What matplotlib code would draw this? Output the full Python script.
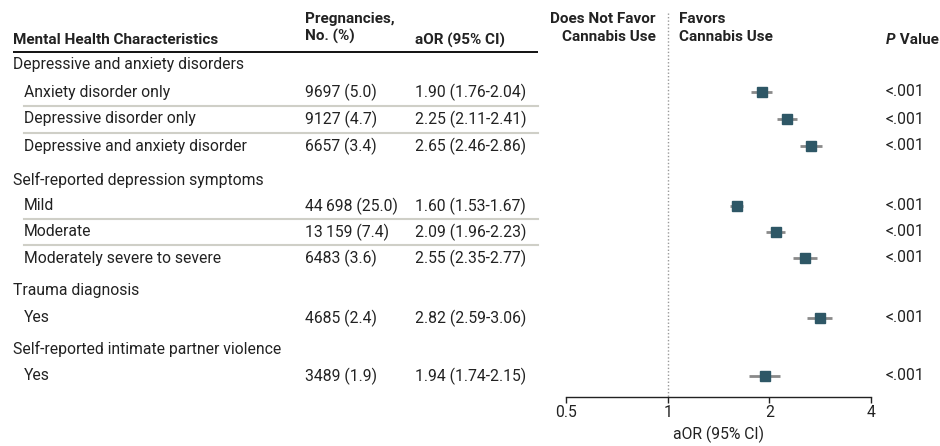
import matplotlib
matplotlib.use('Agg')
import matplotlib.pyplot as plt
import numpy as np

plt.rcParams['font.family'] = ['Roboto', 'DejaVu Sans']

# data
sections = ['Depressive and anxiety disorders', 'Self-reported depression symptoms',
            'Trauma diagnosis', 'Self-reported intimate partner violence']
labels = ['Anxiety disorder only', 'Depressive disorder only', 'Depressive and anxiety disorder',
          'Mild', 'Moderate', 'Moderately severe to severe',
          'Yes',
          'Yes']
group = [0, 0, 0, 1, 1, 1, 2, 3]
counts = ['9697 (5.0)', '9127 (4.7)', '6657 (3.4)',
          '44\u2009698 (25.0)', '13\u2009159 (7.4)', '6483 (3.6)',
          '4685 (2.4)', '3489 (1.9)']
aor = [1.90, 2.25, 2.65, 1.60, 2.09, 2.55, 2.82, 1.94]
lo = [1.76, 2.11, 2.46, 1.53, 1.96, 2.35, 2.59, 1.74]
hi = [2.04, 2.41, 2.86, 1.67, 2.23, 2.77, 3.06, 2.15]
pvals = ['<.001'] * 8
ticks = [0.5, 1, 2, 4]
tick_labels = ['0.5', '1', '2', '4']

# layout (pixel rows from top)
W, H = 940, 446
sec_y = [64, 180, 291, 349]
row_y = [92, 119, 146, 206, 232, 258, 318, 376]
axis_y = 397
x_sec, x_row, x_cnt, x_aor, x_p = 13, 24, 305, 415, 886
fs = 11.3
hfs = 11.0
txt = '#222222'
mark = '#2e5766'

fig = plt.figure(figsize=(W / 100, H / 100), dpi=100)
bg = fig.add_axes([0, 0, 1, 1])
bg.set_xlim(0, W)
bg.set_ylim(H, 0)
bg.axis('off')

# header
hkw = dict(fontsize=hfs, fontweight='bold', color=txt)
bg.text(x_sec, 40, 'Mental Health Characteristics', va='center', **hkw)
bg.text(x_cnt, 28, 'Pregnancies,\nNo. (%)', va='center', linespacing=1.3, **hkw)
bg.text(x_aor, 40, 'aOR (95% CI)', va='center', **hkw)
bg.text(656, 28, 'Does Not Favor\nCannabis Use', va='center', ha='right',
        multialignment='right', linespacing=1.3, **hkw)
bg.text(679, 28, 'Favors\nCannabis Use', va='center', ha='left', linespacing=1.3, **hkw)
pt = bg.text(x_p, 40, 'P', va='center', fontstyle='italic', **hkw)
bg.annotate(' Value', xy=(1, 0.5), xycoords=pt, va='center', ha='left', **hkw)
bg.plot([x_sec, 538], [51.5, 51.5], color='#111111', lw=1.4, solid_capstyle='butt')

for s, y in zip(sections, sec_y):
    bg.text(x_sec, y, s, va='center', fontsize=fs, color=txt)

for i, (lab, c, a, l, h, p) in enumerate(zip(labels, counts, aor, lo, hi, pvals)):
    y = row_y[i]
    bg.text(x_row, y, lab, va='center', fontsize=fs, color=txt)
    bg.text(x_cnt, y, c, va='center', fontsize=fs, color=txt)
    bg.text(x_aor, y, f'{a:.2f} ({l:.2f}-{h:.2f})', va='center', fontsize=fs, color=txt)
    bg.text(x_p, y, p, va='center', fontsize=fs, color=txt)
    if i + 1 < len(row_y) and group[i + 1] == group[i]:
        yy = (row_y[i] + row_y[i + 1]) / 2
        bg.plot([x_row, 538], [yy, yy], color='#cfcfc7', lw=1.5)

# forest plot
x0, x1 = 566, 871
ax = fig.add_axes([x0 / W, 1 - axis_y / H, (x1 - x0) / W, axis_y / H])
ax.set_xscale('log')
ax.set_xlim(0.5, 4)
ax.set_ylim(axis_y, 0)
ax.patch.set_alpha(0)
for sp in ['top', 'left', 'right']:
    ax.spines[sp].set_visible(False)
ax.spines['bottom'].set_color('#222222')
ax.spines['bottom'].set_linewidth(1.0)
ax.set_yticks([])
ax.set_xticks(ticks)
ax.set_xticklabels(tick_labels)
ax.minorticks_off()
ax.tick_params(axis='x', length=4, width=1, color='#222222', labelsize=fs, labelcolor=txt, pad=2)
ax.set_xlabel('aOR (95% CI)', fontsize=fs, color=txt, labelpad=4)
ax.plot([1, 1], [13, axis_y], color='#999999', lw=1, linestyle=(0, (1, 1.5)))

ax.hlines(row_y, lo, hi, color='#8a8a8a', lw=2)
ax.plot(aor, row_y, 's', color=mark, markersize=7.5, linestyle='None')

fig.savefig('out.png', dpi=100)
